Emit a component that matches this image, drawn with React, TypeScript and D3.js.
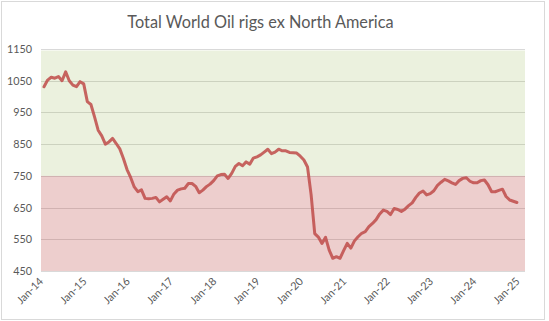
import React from 'react';
import * as d3 from 'd3';

const chartTitle = 'Total World Oil rigs ex North America';
const xTickLabels = ['Jan-14', 'Jan-15', 'Jan-16', 'Jan-17', 'Jan-18', 'Jan-19', 'Jan-20', 'Jan-21', 'Jan-22', 'Jan-23', 'Jan-24', 'Jan-25'];
const yTickValues = [450, 550, 650, 750, 850, 950, 1050, 1150];
const bandLimits = [450, 750, 1150];
const bandColors = ['#C0504D', '#9BBB59'];

// Monthly rig counts, Jan-2014 .. Dec-2024
const rigs = [
  1031, 1052, 1061, 1058, 1063, 1050, 1078, 1050, 1036, 1031, 1047, 1040,
  984, 975, 936, 894, 876, 850, 857, 868, 852, 835, 805, 770,
  745, 715, 700, 706, 679, 678, 679, 682, 668, 676, 684, 671,
  693, 705, 709, 711, 726, 726, 717, 697, 705, 716, 724, 735,
  750, 754, 755, 742, 758, 780, 789, 782, 794, 787, 806, 810,
  816, 825, 834, 820, 825, 834, 829, 829, 824, 823, 822, 812,
  800, 778, 690, 568, 557, 537, 556, 516, 490, 495, 490, 514,
  537, 522, 545, 558, 569, 574, 590, 600, 612, 630, 642, 638,
  628, 647, 644, 638, 645, 656, 665, 682, 696, 702, 690, 694,
  703, 720, 730, 739, 734, 728, 723, 735, 742, 744, 733, 728,
  728, 735, 737, 722, 700, 700, 704, 708, 685, 674, 670, 666,
];

export default function App() {
  const W = 549;
  const H = 321;
  const plotLeft = 41;
  const plotRight = 525;
  const x = d3.scaleLinear().domain([0, 132]).range([44, 520.5]);
  const y = d3.scaleLinear().domain([450, 1150]).range([271, 49]);
  const line = d3.line<number>().x((_, i) => x(i)).y((d) => y(d)).curve(d3.curveLinear);
  const font = "Lato, 'Open Sans', sans-serif";
  const textColor = '#595959';

  return (
    <svg width={W} height={H} style={{ position: 'fixed', left: 0, top: 0, background: '#fff' }}>
      <rect x={0} y={0} width={W} height={H} fill="#fff" />
      <rect x={1.5} y={1.5} width={543} height={318} fill="none" stroke="#D9D9D9" />
      <text x={260.5} y={28} textAnchor="middle" fontFamily={font} fontSize={16.3} fill={textColor}>{chartTitle}</text>
      {yTickValues.map((v) => (
        <line key={'g' + v} x1={plotLeft} x2={plotRight} y1={Math.round(y(v)) + 0.5} y2={Math.round(y(v)) + 0.5} stroke="#D9D9D9" strokeWidth={1} />
      ))}
      {bandColors.map((c, i) => {
        const top = y(bandLimits[i + 1]) + (i === 1 ? 1.5 : 0);
        const bottom = y(bandLimits[i]);
        return <rect key={'b' + i} x={plotLeft} y={top} width={plotRight - plotLeft} height={bottom - top} fill={c} fillOpacity={i === 0 ? 0.28 : 0.2} />;
      })}
      <path d={line(rigs) || ''} fill="none" stroke="#C0504D" strokeOpacity={0.88} strokeWidth={3} strokeLinejoin="round" strokeLinecap="round" />
      {yTickValues.map((v) => (
        <text key={'t' + v} x={32} y={y(v) + 4} textAnchor="end" fontFamily={font} fontSize={10.8} fill={textColor}>{v}</text>
      ))}
      {xTickLabels.map((lab, i) => (
        <text key={lab} transform={`translate(${x(i * 12)},${282}) rotate(-45)`} textAnchor="end" fontFamily={font} fontSize={10.8} fill={textColor}>{lab}</text>
      ))}
    </svg>
  );
}
